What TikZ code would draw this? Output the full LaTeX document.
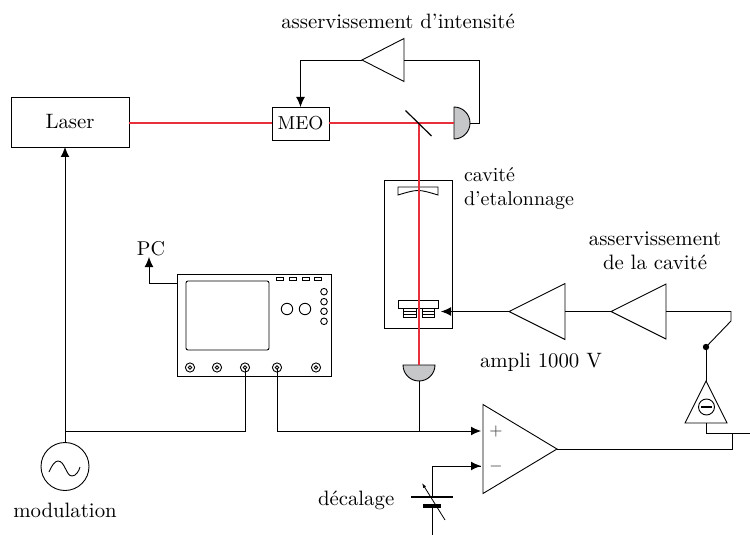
\documentclass[tikz,border=0pt]{standalone}
\usepackage{tikz}
\usetikzlibrary{arrows.meta,positioning,calc,shapes.geometric}
\usepackage{xcolor}
\definecolor{beamRed}{HTML}{E8303C}
\definecolor{detGrey}{HTML}{C6C7C9}
\tikzset{
  arr/.style={-{Latex[length=5pt,width=4.4pt]}, line width=0.45pt},
  wire/.style={line width=0.45pt},
  beam/.style={line width=0.9pt, draw=beamRed},
  box/.style={draw, line width=0.45pt, inner sep=0pt, outer sep=0pt, align=center, font=\fontsize{10.4}{12}\selectfont},
  ampli/.style={isosceles triangle, isosceles triangle stretches, shape border rotate=180, draw, line width=0.45pt, inner sep=0pt, outer sep=0pt, anchor=apex},
  detect/.style={semicircle, draw, fill=detGrey, line width=0.45pt, inner sep=0pt, outer sep=0pt, minimum size=8pt},
  knob/.style={circle, draw, line width=0.45pt, inner sep=0pt, outer sep=0pt},
  tag/.style={inner sep=0pt, outer sep=0pt, align=center, font=\fontsize{10.4}{12}\selectfont},
  signe/.style={inner sep=0pt, outer sep=0pt, font=\fontsize{8.5}{10}\selectfont, text=black!75},
  plaque/.style={fill=black, inner sep=0pt, outer sep=0pt}
}
\begin{document}
\begin{tikzpicture}[x=0.5pt,y=-0.5pt]
  \useasboundingbox (0,0) rectangle (750,535);
  % beams first
  \node[box, minimum width=59pt, minimum height=25pt] (laser) at (70,122) {Laser};
  \node[box, minimum width=28.5pt, minimum height=16.5pt, fill=white, font=\fontsize{9.4}{11}\selectfont] (meo) at (300.5,123.5) {MEO};
  \node[detect, shape border rotate=270, anchor=chord center] (detint) at (454,123) {};
  \node[detect, shape border rotate=180, anchor=chord center] (detcav) at (419,365) {};
  \coordinate (split) at (419,123);
  \node[box, minimum width=34pt, minimum height=74pt] (cavite) at (418,254) {};
  \draw[beam] (laser.east |- split) -- (meo.west |- split);
  \draw[beam] (meo.east |- split) -- (detint.chord center);
  \draw[beam] (split) -- (detcav.chord center);
  \draw[line width=0.6pt] (405.5,110.5) -- (431.5,136);
  % intensity loop
  \node[ampli, minimum width=21.5pt, minimum height=21pt] (ampint) at (362,60) {};
  \draw[wire] (detint.apex) -| (479,60) -- (ampint.lower side);
  \draw[arr] (ampint.apex) -| (meo.north);
  % cavity mirrors and piezo
  \draw[line width=0.45pt] (398,187) -- (438,187) -- (438,195) .. controls (418,189) .. (398,195) -- cycle;
  \draw[line width=0.45pt] (398,300) rectangle (438,308);
  \foreach \x in {403.5,422}{
    \draw[line width=0.45pt] (\x,308) rectangle ++(12.5,9.5);
    \draw[line width=0.45pt] (\x,311) -- ++(12.5,0) (\x,314) -- ++(12.5,0);
  }
  \draw[beam] (419,180) -- (419,328);
  % cavity loop
  \coordinate (piezo) at (441,311.5);
  \node[ampli, minimum width=28pt, minimum height=28pt] (amphv) at (509,311.5) {};
  \node[ampli, minimum width=27.5pt, minimum height=27.5pt] (ampcav) at (611,311.5) {};
  \node[ampli, shape border rotate=90, minimum width=21pt, minimum height=21pt] (ampdiff) at (706,381) {};
  \node[knob, minimum size=8pt] (moins) at (706.5,407) {};
  \draw[line width=0.6pt] (701,407) -- (712,407);
  \node[circle, fill=black, inner sep=0pt, minimum size=3.2pt] (contact) at (706,347) {};
  \draw[arr] (amphv.apex) -- (piezo);
  \draw[wire] (ampcav.apex) -- (amphv.lower side);
  \draw[wire] (ampcav.lower side) -- (731,311.5) -- (731,321) -- (contact.center);
  \draw[wire] (contact.center) -- (ampdiff.apex);
  % comparator
  \node[ampli, shape border rotate=0, anchor=apex, minimum width=44.5pt, minimum height=37pt] (comp) at (557,449) {};
  \coordinate (plus) at (481,431);
  \coordinate (minus) at (481,466);
  \node[signe] (signplus) at (496,431) {$+$};
  \node[signe] (signminus) at (496,466) {$-$};
  \coordinate (sortie) at (750,433.5);
  \coordinate (branche) at (732,433.5);
  \draw[wire] (ampdiff.lower side) |- (sortie);
  \draw[wire] (comp.apex) -| (branche);
  % oscilloscope
  \node[box, minimum width=77pt, minimum height=51pt] (scope) at (254,325) {};
  \node[box, rounded corners=1pt, minimum width=41.5pt, minimum height=34.5pt] (ecran) at (227.5,315.5) {};
  \foreach \x in {279.5,293,305.5,318}
    \draw[line width=0.45pt] (\x-3.5,277.5) rectangle (\x+3.5,280);
  \node[knob, minimum size=5.7pt] (knoba) at (287,309) {};
  \node[knob, minimum size=5.7pt] (knobb) at (305,309) {};
  \foreach \y in {291.7,301.7,311.3,321.3}
    \node[knob, minimum size=3.3pt] at (324,\y) {};
  \foreach \n/\x in {a/190,b/217,c/245,d/277,e/316}{
    \node[knob, minimum size=4.6pt] at (\x,367.5) {};
    \node[knob, minimum size=1.8pt] (bnc\n) at (\x,367.5) {};
  }
  % signal wiring
  \node[knob, minimum size=24pt] (modu) at (65,466.5) {};
  \draw[line width=0.45pt] (49,472) .. controls (52,465) and (55,461) .. (58,461) .. controls (65,461) and (66,476) .. (72,476) .. controls (76,476) and (79,471) .. (80,467);
  \draw[arr] (modu.north) -- (laser.south -| modu.north);
  \draw[wire] (65,431) -| (bncc.south);
  \draw[arr] (bncd.south) |- (plus);
  \draw[wire] (detcav.apex) -- (419,431);
  \draw[arr] (scope.west |- 0,283) -| (149,257);
  % offset source
  \node[plaque, minimum width=21pt, minimum height=0.7pt] (plaquea) at (432,497) {};
  \node[plaque, minimum width=9pt, minimum height=2pt] (plaqueb) at (432,506) {};
  \draw[wire] (plaquea.center) |- (minus);
  \draw[arr] (432,466) -- (minus);
  \draw[wire] (plaqueb.center) -- (432,535);
  \draw[-{Latex[length=2.5pt,width=1.6pt]}, line width=0.4pt] (445,520) -- (422,483);
  % labels
  \node[tag] (titreint) at (398,21) {asservissement d'intensité};
  \node[tag, align=left, anchor=west, font=\normalsize] (titrecav) at (464,189) {cavité\\d'etalonnage};
  \node[tag] (titreasc) at (655,250.5) {asservissement\\de la cavité};
  \node[tag, anchor=west] (titrehv) at (480,362) {ampli 1000 V};
  \node[tag, font=\normalsize] (titrepc) at (151,249) {PC};
  \node[tag] (titremod) at (65,510) {modulation};
  \node[tag, anchor=west] (titredec) at (318,500) {décalage};
\end{tikzpicture}
\end{document}
